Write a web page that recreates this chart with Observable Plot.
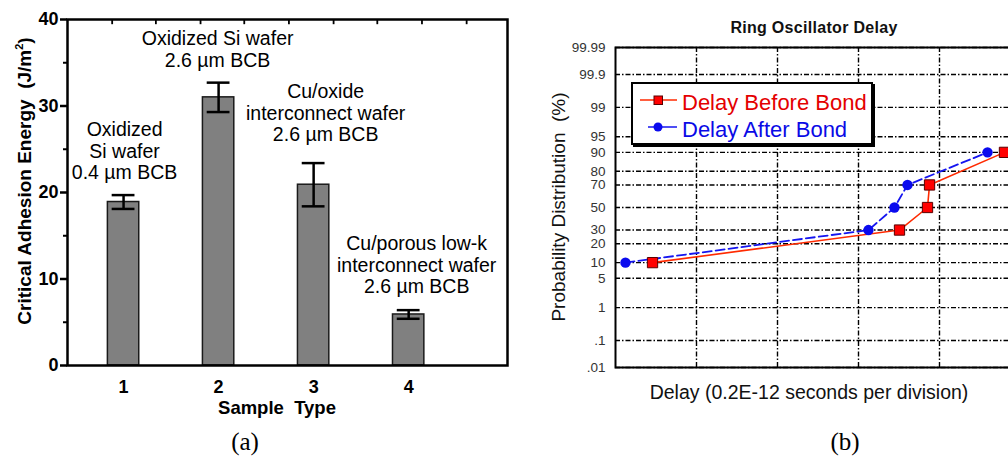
<!DOCTYPE html>
<html>
<head>
<meta charset="utf-8">
<script src="https://cdn.jsdelivr.net/npm/d3@7"></script>
<script src="https://cdn.jsdelivr.net/npm/@observablehq/plot@0.6"></script>
<style>
  html, body { margin: 0; padding: 0; background: #fff; overflow: hidden; }
  #wrap { position: relative; width: 1008px; height: 459px; overflow: hidden; font-family: "Liberation Sans", Arial, sans-serif; }
  .abs { position: absolute; white-space: nowrap; line-height: 1; }
  .c { transform: translate(-50%, -50%); }
  .r { transform: translate(-50%, -50%) rotate(-90deg); }
  #panelA { position: absolute; left: 0; top: 0; width: 520px; }
  #panelB { position: absolute; left: 530px; top: 0; width: 500px; }
  #panelA svg, #panelB svg { max-width: none !important; }
</style>
</head>
<body>
<div id="wrap">
  <div id="panelA"></div>
  <div id="panelB"></div>
  <div class="abs r" style="left:24px; top:181px; font-size:19px; font-weight:bold;">Critical Adhesion Energy&nbsp; (J/m<sup style="font-size:11px">2</sup>)</div>
  <div class="abs c" style="left:277px; top:408px; font-size:18.5px; font-weight:bold;">Sample&nbsp; Type</div>
  <div class="abs c" style="left:245px; top:441px; font-size:25px; font-family:'Liberation Serif','Times New Roman',serif;">(a)</div>
  <div class="abs c" style="left:814px; top:28px; font-size:16px; font-weight:bold; letter-spacing:0.3px; color:#111;">Ring Oscillator Delay</div>
  <div class="abs r" style="left:558px; top:207px; font-size:19px; color:#111;">Probability Distribution&nbsp; (%)</div>
  <div class="abs c" style="left:809px; top:393px; font-size:19.5px; color:#111;">Delay (0.2E-12 seconds per division)</div>
  <div class="abs c" style="left:845px; top:441px; font-size:25px; font-family:'Liberation Serif','Times New Roman',serif;">(b)</div>
  <div id="legend" class="abs" style="left:631px; top:82px; width:238px; height:59px; border:2px solid #000; box-shadow:2px 2px 0 #000; background:#fff;"></div>
</div>
<script>
// ---------- Panel (a) data ----------
const sampleTypes = [1, 2, 3, 4];
const adhesionEnergy = [18.9, 31.0, 20.9, 5.9];
const adhesionError = [0.8, 1.7, 2.5, 0.5];
const sampleNotes = [
  "Oxidized\nSi wafer\n0.4 µm BCB",
  "Oxidized Si wafer\n2.6 µm BCB",
  "Cu/oxide\ninterconnect wafer\n2.6 µm BCB",
  "Cu/porous low-k\ninterconnect wafer\n2.6 µm BCB"
];
const yTicksA = [0, 10, 20, 30, 40];
const yMinorTicksA = [5, 15, 25, 35];
const topTicksA = [0.88, 1.34, 1.81, 2.27, 2.74, 3.21, 3.67, 4.14, 4.61];

// ---------- Panel (b) data ----------
const cumulativePct = [10, 30, 50, 70, 90];
const delayBefore = [0.457, 3.506, 3.852, 3.877, 4.802];
const delayAfter = [0.123, 3.123, 3.444, 3.605, 4.593];
const probTicks = [0.01, 0.1, 1, 5, 10, 20, 30, 50, 70, 80, 90, 95, 99, 99.9, 99.99];
const probLabels = [".01", ".1", "1", "5", "10", "20", "30", "50", "70", "80", "90", "95", "99", "99.9", "99.99"];
const delayGrid = [1, 2, 3, 4];

// inverse normal CDF (probability-paper transform)
function qnorm(p) {
  const a = [-3.969683028665376e+01, 2.209460984245205e+02, -2.759285104469687e+02, 1.383577518672690e+02, -3.066479806614716e+01, 2.506628277459239e+00];
  const b = [-5.447609879822406e+01, 1.615858368580409e+02, -1.556989798598866e+02, 6.680131188771972e+01, -1.328068155288572e+01];
  const c = [-7.784894002430293e-03, -3.223964580411365e-01, -2.400758277161838e+00, -2.549671010229583e+00, 4.374664141464968e+00, 2.938163982698783e+00];
  const d = [7.784695709041462e-03, 3.224671290700398e-01, 2.445134137142996e+00, 3.754408661907416e+00];
  const pl = 0.02425, ph = 1 - pl;
  let q, r;
  if (p < pl) {
    q = Math.sqrt(-2 * Math.log(p));
    return (((((c[0]*q+c[1])*q+c[2])*q+c[3])*q+c[4])*q+c[5]) / ((((d[0]*q+d[1])*q+d[2])*q+d[3])*q+1);
  }
  if (p > ph) {
    q = Math.sqrt(-2 * Math.log(1 - p));
    return -(((((c[0]*q+c[1])*q+c[2])*q+c[3])*q+c[4])*q+c[5]) / ((((d[0]*q+d[1])*q+d[2])*q+d[3])*q+1);
  }
  q = p - 0.5; r = q * q;
  return (((((a[0]*r+a[1])*r+a[2])*r+a[3])*r+a[4])*r+a[5])*q / (((((b[0]*r+b[1])*r+b[2])*r+b[3])*r+b[4])*r+1);
}
const z = pct => qnorm(pct / 100);

// ---------- Panel (a) ----------
const rowsA = sampleTypes.map((s, i) => ({
  cat: s, energy: adhesionEnergy[i], lo: adhesionEnergy[i] - adhesionError[i],
  hi: adhesionEnergy[i] + adhesionError[i], note: sampleNotes[i]
}));
const noteShift = [[1, -16], [-1, -16], [12, -22], [8, -17]];

const plotA = Plot.plot({
  width: 520, height: 420,
  marginLeft: 67, marginRight: 13, marginTop: 19, marginBottom: 55,
  style: { fontFamily: "'Liberation Sans', Arial, sans-serif", background: "transparent", overflow: "visible", maxWidth: "none" },
  x: { domain: [0.41, 5.04] },
  y: { domain: [0, 40] },
  marks: [
    Plot.rectY(rowsA, { x1: d => d.cat - 0.165, x2: d => d.cat + 0.165, y: "energy", fill: "#808080", stroke: "#1a1a1a", strokeWidth: 1.5 }),
    Plot.ruleX(rowsA, { x: "cat", y1: "lo", y2: "hi", stroke: "#000", strokeWidth: 2.5 }),
    Plot.ruleY(rowsA, { y: "hi", x1: d => d.cat - 0.12, x2: d => d.cat + 0.12, stroke: "#000", strokeWidth: 2.5 }),
    Plot.ruleY(rowsA, { y: "lo", x1: d => d.cat - 0.12, x2: d => d.cat + 0.12, stroke: "#000", strokeWidth: 2.5 }),
    ...rowsA.map((r, i) => Plot.text([r], {
      x: "cat", y: "hi", text: "note", lineAnchor: "bottom", lineHeight: 1.1,
      fontSize: 19.5, fill: "#000", dx: noteShift[i][0], dy: noteShift[i][1]
    })),
    Plot.ruleX(topTicksA, { x: d => d, y1: 40, y2: 39.4, stroke: "#000", strokeWidth: 1.8 }),
    Plot.axisY({ ticks: yTicksA, tickSize: 7, tickPadding: 2, fontSize: 18, fontWeight: "bold", strokeWidth: 2.5, label: null }),
    Plot.axisY({ ticks: yMinorTicksA, tickSize: 4, tickFormat: () => "", strokeWidth: 2, label: null }),
    Plot.axisX({ ticks: sampleTypes, tickFormat: d => String(d), tickSize: 0, tickPadding: 15, fontSize: 18, fontWeight: "bold", label: null }),
    Plot.frame({ stroke: "#000", strokeWidth: 2.5 })
  ]
});
document.getElementById("panelA").appendChild(plotA);

// ---------- Panel (b) ----------
const before = cumulativePct.map((p, i) => ({ delay: delayBefore[i], z: z(p) }));
const after = cumulativePct.map((p, i) => ({ delay: delayAfter[i], z: z(p) }));
const zTicks = probTicks.map(z);
const labelOf = new Map(zTicks.map((t, i) => [t, probLabels[i]]));
const grid = { stroke: "#000", strokeWidth: 1.4, strokeDasharray: "5,2,1.5,2" };

const plotB = Plot.plot({
  width: 500, height: 420,
  marginLeft: 85, marginRight: 10, marginTop: 47, marginBottom: 53,
  style: { fontFamily: "'Liberation Sans', Arial, sans-serif", background: "transparent", overflow: "visible", maxWidth: "none" },
  x: { domain: [0, 5], axis: null },
  y: { domain: [z(0.01), z(99.99)] },
  marks: [
    Plot.ruleY(zTicks, { y: d => d, ...grid }),
    Plot.ruleX(delayGrid, { x: d => d, ...grid }),
    Plot.axisY({ ticks: zTicks, tickFormat: d => labelOf.get(d), tickSize: 0, tickPadding: 10, fontSize: 13.5, fill: "#333", label: null }),
    Plot.line(before, { x: "delay", y: "z", stroke: "#ff2a00", strokeWidth: 1.6 }),
    Plot.line(after, { x: "delay", y: "z", stroke: "#1515f0", strokeWidth: 1.8, strokeDasharray: "9,4" }),
    Plot.dot(before, { x: "delay", y: "z", symbol: "square", r: 5.8, fill: "#ff0000", stroke: "#5a0000", strokeWidth: 1 }),
    Plot.dot(after, { x: "delay", y: "z", symbol: "circle", r: 5.2, fill: "#0a0aee", stroke: "none" }),
    Plot.frame({ stroke: "#000", strokeWidth: 2 })
  ]
});
document.getElementById("panelB").appendChild(plotB);

// ---------- Legend ----------
const legend = d3.select("#legend").append("svg").attr("width", 238).attr("height", 59).style("display", "block");
legend.append("line").attr("x1", 7).attr("x2", 44).attr("y1", 16).attr("y2", 16).attr("stroke", "#ff2a00").attr("stroke-width", 1.5);
legend.append("rect").attr("x", 21).attr("y", 12).attr("width", 8.5).attr("height", 8.5).attr("fill", "#ff0000").attr("stroke", "#5a0000");
legend.append("text").attr("x", 49).attr("y", 26).attr("font-size", 22).attr("fill", "#e40000").attr("font-family", "'Liberation Sans', Arial, sans-serif").text("Delay Before Bond");
legend.append("line").attr("x1", 15).attr("x2", 44).attr("y1", 43).attr("y2", 43).attr("stroke", "#1515f0").attr("stroke-width", 1.5);
legend.append("circle").attr("cx", 25).attr("cy", 43).attr("r", 4.5).attr("fill", "#0a0aee");
legend.append("text").attr("x", 49).attr("y", 53).attr("font-size", 22).attr("fill", "#0a0ae6").attr("font-family", "'Liberation Sans', Arial, sans-serif").text("Delay After Bond");
</script>
</body>
</html>
